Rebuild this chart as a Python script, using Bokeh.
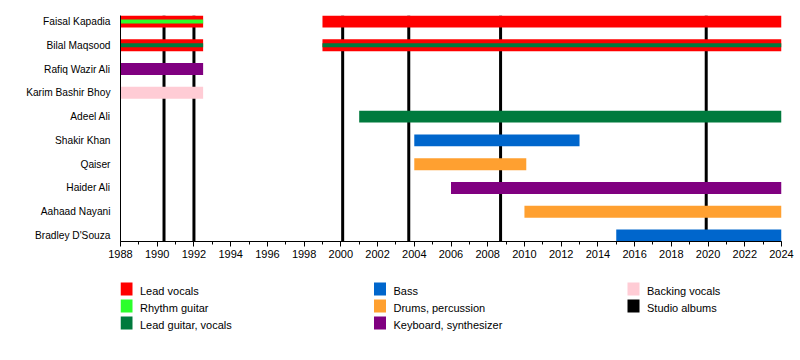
from bokeh.plotting import figure
from bokeh.layouts import column
from bokeh.models import Range1d, FixedTicker, SingleIntervalTicker, ColumnDataSource
from bokeh.embed import file_html
from bokeh.resources import INLINE

# ---------------- data ----------------
members = ["Faisal Kapadia", "Bilal Maqsood", "Rafiq Wazir Ali", "Karim Bashir Bhoy",
           "Adeel Ali", "Shakir Khan", "Qaiser", "Haider Ali", "Aahaad Nayani",
           "Bradley D'Souza"]

roles = ["Lead vocals", "Rhythm guitar", "Lead guitar, vocals", "Bass",
         "Drums, percussion", "Keyboard, synthesizer", "Backing vocals", "Studio albums"]
role_colors = ["#FF0000", "#2BFF2B", "#007A3D", "#0066CC",
               "#FFA030", "#800080", "#FFCCD5", "#000000"]

bar_member = ["Faisal Kapadia", "Faisal Kapadia", "Bilal Maqsood", "Bilal Maqsood",
              "Rafiq Wazir Ali", "Karim Bashir Bhoy", "Adeel Ali", "Shakir Khan",
              "Qaiser", "Haider Ali", "Aahaad Nayani", "Bradley D'Souza"]
bar_role = ["Lead vocals", "Lead vocals", "Lead vocals", "Lead vocals",
            "Keyboard, synthesizer", "Backing vocals", "Lead guitar, vocals", "Bass",
            "Drums, percussion", "Keyboard, synthesizer", "Drums, percussion", "Bass"]
bar_start = [1988, 1999, 1988, 1999, 1988, 1988, 2001, 2004, 2004, 2006, 2010, 2015]
bar_end = [1992.5, 2024, 1992.5, 2024, 1992.5, 1992.5, 2024, 2013, 2010.1, 2024, 2024, 2024]

stripe_member = ["Faisal Kapadia", "Bilal Maqsood", "Bilal Maqsood"]
stripe_role = ["Rhythm guitar", "Lead guitar, vocals", "Lead guitar, vocals"]
stripe_start = [1988, 1988, 1999]
stripe_end = [1992.5, 1992.5, 2024]

album_years = [1990.37, 1992.0, 2000.1, 2003.7, 2008.7, 2019.9]

x_start, x_end = 1988, 2024

FONT = "Liberation Sans"
color_of = dict(zip(roles, role_colors))

# ---------------- main timeline ----------------
y_range = Range1d(start=len(members) - 1 + 0.25, end=-0.25)
p = figure(width=800, height=270, x_range=Range1d(x_start, x_end), y_range=y_range,
           output_backend="svg", toolbar_location=None,
           min_border_left=120, min_border_right=19, min_border_top=15, min_border_bottom=29)
p.outline_line_color = None
p.xgrid.visible = False
p.ygrid.visible = False

# album lines (behind bars)
p.segment(x0=album_years, x1=album_years,
          y0=[y_range.start] * len(album_years), y1=[y_range.end] * len(album_years),
          line_color="black", line_width=3)

bars = ColumnDataSource(dict(
    y=[members.index(m) for m in bar_member],
    left=bar_start, right=bar_end,
    color=[color_of[r] for r in bar_role]))
p.hbar(y="y", left="left", right="right", height=0.5, fill_color="color",
       line_color=None, source=bars)

stripes = ColumnDataSource(dict(
    y=[members.index(m) for m in stripe_member],
    left=stripe_start, right=stripe_end,
    color=[color_of[r] for r in stripe_role]))
p.hbar(y="y", left="left", right="right", height=0.5 / 3, fill_color="color",
       line_color=None, source=stripes)

# x axis
xa = p.xaxis[0]
xa.ticker = SingleIntervalTicker(interval=2, num_minor_ticks=2)
xa.axis_line_color = "black"
xa.major_tick_line_color = "black"
xa.minor_tick_line_color = "black"
xa.major_tick_in = 0
xa.major_tick_out = 5
xa.minor_tick_in = 0
xa.minor_tick_out = 3
xa.major_label_standoff = 3
xa.major_label_text_font = FONT
xa.major_label_text_font_size = "11px"
xa.major_label_text_color = "black"

# y axis
ya = p.yaxis[0]
ya.ticker = FixedTicker(ticks=list(range(len(members))))
ya.major_label_overrides = {i: m for i, m in enumerate(members)}
ya.axis_line_color = "black"
ya.major_tick_line_color = None
ya.minor_tick_line_color = None
ya.major_tick_in = 0
ya.major_tick_out = 0
ya.major_label_standoff = 10
ya.major_label_text_font = FONT
ya.major_label_text_font_size = "10.2px"
ya.major_label_text_color = "black"

# ---------------- legend panel (frame aligned with the timeline frame) ----------------
frame_w, leg_h = 661, 80
q = figure(width=800, height=leg_h, x_range=Range1d(0, frame_w), y_range=Range1d(leg_h, 0),
           output_backend="svg", toolbar_location=None,
           min_border_left=120, min_border_right=19, min_border_top=0, min_border_bottom=0)
q.axis.visible = False
q.xgrid.visible = False
q.ygrid.visible = False
q.outline_line_color = None

col_dx, row_y0, row_dy = 253.5, 18.5, 17
idx = list(range(len(roles)))
sw_x = [(i // 3) * col_dx + 6 for i in idx]
sw_y = [row_y0 + (i % 3) * row_dy for i in idx]
q.rect(x=sw_x, y=sw_y, width=12, height=13, fill_color=role_colors, line_color=None)
q.text(x=[x + 13.5 for x in sw_x], y=[y + 1.5 for y in sw_y], text=roles,
       text_font={"value": FONT}, text_font_size="11px", text_baseline="middle",
       text_align="left", text_color="black")

layout = column(p, q, spacing=0)
open("out.html", "w").write(file_html(layout, INLINE))
